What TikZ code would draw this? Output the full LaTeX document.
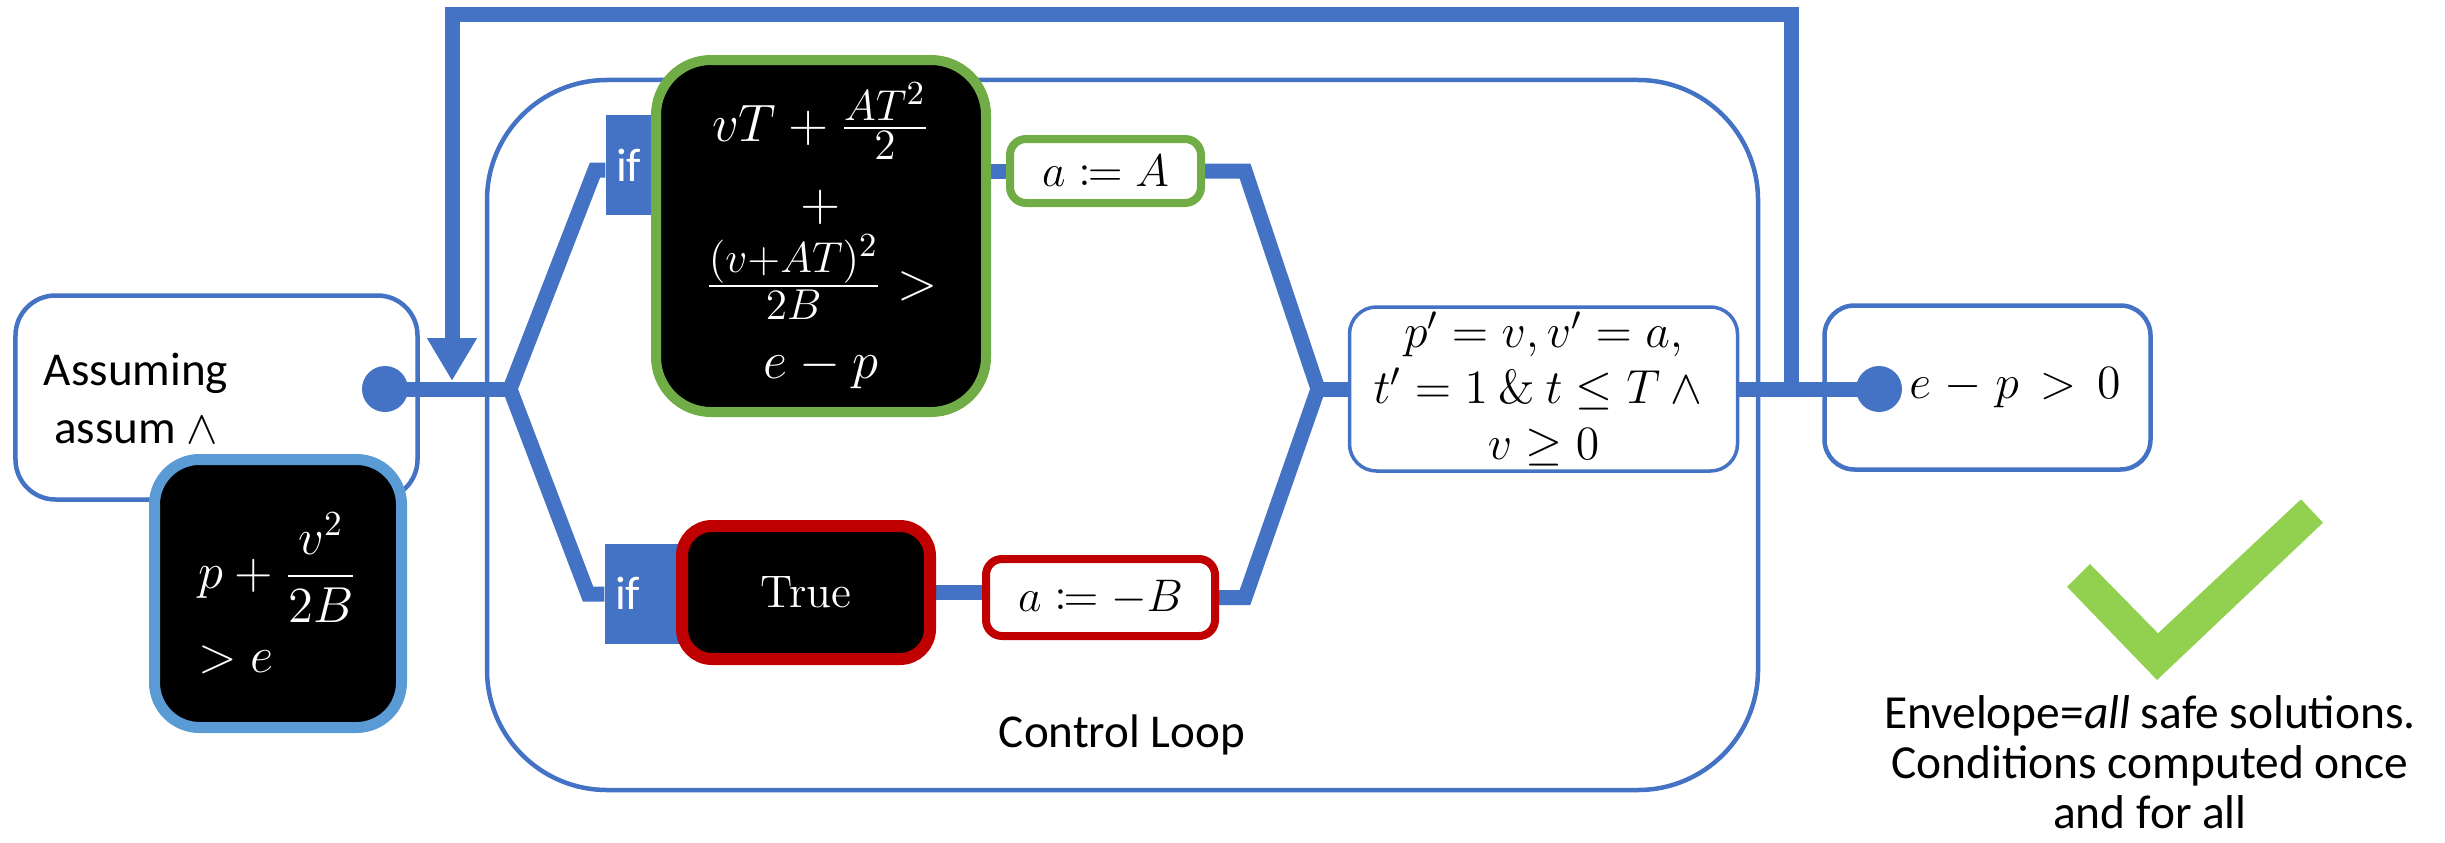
\documentclass[tikz,border=0pt]{standalone}
\usepackage{fix-cm}
\usepackage{amsmath,amssymb,mathtools}
\usepackage{fontspec}
\newfontfamily\calibri{Carlito}
\usetikzlibrary{arrows.meta,backgrounds}
\definecolor{figblue}{HTML}{4472C4}
\definecolor{figsky}{HTML}{5B9BD5}
\definecolor{figgreen}{HTML}{70AD47}
\definecolor{figred}{HTML}{C00000}
\definecolor{figlime}{HTML}{92D050}
% larger fractions inside the guard box
\DeclareMathSizes{15}{15}{12.3}{9.6}

\begin{document}
\begin{tikzpicture}[
  wire/.style={figblue, line width=1.5mm},
  thinbox/.style={draw=figblue, line width=0.45mm, inner sep=0pt},
  cond/.style={fill=black, text=white, line width=1mm, inner sep=0pt, align=center},
  assign/.style={fill=white, line width=0.8mm, rounded corners=1.6mm, inner sep=0pt, font=\fontsize{13}{15}\selectfont},
  ifbox/.style={fill=figblue, text=white, minimum height=1cm, text width=0.6cm, inner xsep=1mm, inner ysep=0pt, align=left, font=\calibri\fontsize{13.4}{15}\selectfont},
  jdot/.style={circle, fill=figblue, minimum size=4.6mm, inner sep=0pt},
  txt/.style={align=center, font=\calibri\fontsize{13.4}{16.5}\selectfont},
  >={Triangle[width=4.7mm,length=4.3mm]}
]
\useasboundingbox (0,0) rectangle (24.45,8.42);

% loop body
\node[thinbox, rounded corners=12mm, minimum width=12.71cm, minimum height=7.1cm] (loop) at (11.225,4.07) {};
\node[txt] (looplbl) at (11.22,1.07) {Control Loop};

% assumption on entry
\node[thinbox, rounded corners=4mm, minimum width=4.02cm, minimum height=2.04cm] (assum) at (2.165,4.445) {};
\node[txt] (assumlbl) at (1.36,4.44) {Assuming\\assum $\wedge$};
\node[jdot] (din) at (3.85,4.53) {};
\node[cond, draw=figsky, line width=1.1mm, rounded corners=4.5mm, minimum width=2.47cm, minimum height=2.68cm, align=left, font=\fontsize{14.4}{24}\selectfont] (pre) at (2.78,2.485) {$p + \dfrac{v^2}{2B}$\\$> e$};

% the two branches
\node[ifbox] (ifA) at (6.46,6.77) {if};
\node[cond, draw=figgreen, rounded corners=5.5mm, minimum width=3.3cm, minimum height=3.52cm, font=\fontsize{15}{22.5}\selectfont] (cond) at (8.21,6.06)
  {$vT + \frac{AT^2}{2}$\\$+$\\$\frac{(v+AT)^2}{2B} >$\\$e - p$};
\node[assign, draw=figgreen, minimum width=1.91cm, minimum height=0.64cm] (aA) at (11.055,6.71) {$a \coloneqq A$};
\node[ifbox] (ifB) at (6.45,2.485) {if};
\node[cond, draw=figred, line width=1.2mm, rounded corners=3mm, minimum width=2.48cm, minimum height=1.33cm, font=\fontsize{13}{15}\selectfont] (true) at (8.06,2.495) {True};
\node[assign, draw=figred, minimum width=2.29cm, minimum height=0.77cm] (aB) at (11.005,2.445) {$a \coloneqq -B$};

% dynamics and goal
\node[thinbox, line width=0.35mm, rounded corners=2.7mm, minimum width=3.88cm, minimum height=1.64cm, align=center, font=\fontsize{13.6}{15.9}\selectfont] (post) at (15.435,4.53)
  {$p' = v, v' = a,$\\$t' = 1 \mathbin{\&} t \le T \wedge{}$\\$v \ge 0$};
\node[thinbox, rounded corners=3mm, minimum width=3.26cm, minimum height=1.64cm, text width=2.66cm, inner xsep=3mm, align=right, font=\fontsize{13.6}{16}\selectfont] (goal) at (19.875,4.545) {$e - p > 0$};
\node[jdot] (dout) at (18.79,4.53) {};

% junctions
\coordinate (jl) at (5.10,4.53);
\coordinate (ul) at (5.95,6.72);
\coordinate (ll) at (5.88,2.48);
\coordinate (jr) at (13.18,4.53);
\coordinate (ur) at (12.45,6.71);
\coordinate (lr) at (12.45,2.445);
\coordinate (fb) at (17.91,4.53);
\coordinate (ftop) at (17.91,8.275);
\coordinate (fin) at (4.52,4.61);

\begin{scope}[on background layer]
  \draw[wire] (din.center) -- (jl);
  \draw[wire] (ifA.west |- ul) -- (ul) -- (jl) -- (ll) -- (ifB.west |- ll);
  \draw[wire] (cond.east |- aA.west) -- (aA.west);
  \draw[wire] (true.east) -- (true.east -| aB.west);
  \draw[wire] (aA.east) -- (ur) -- (jr) -- (lr) -- (aB.east);
  \draw[wire] (jr) -- (post.west);
  \draw[wire] (post.east) -- (dout.center);
  \draw[wire,->] (fb) -- (ftop) -| (fin);
\end{scope}

% tick
\fill[figlime] (20.67,2.553) -- (20.90,2.78) -- (21.58,2.087) -- (23.01,3.427) -- (23.23,3.193) -- (21.57,1.62) -- cycle;
\node[txt, font=\calibri\fontsize{13.5}{14.2}\selectfont] (env) at (21.50,0.80)
  {Envelope=\textit{all} safe solutions.\\Conditions computed once\\and for all};
\end{tikzpicture}
\end{document}
